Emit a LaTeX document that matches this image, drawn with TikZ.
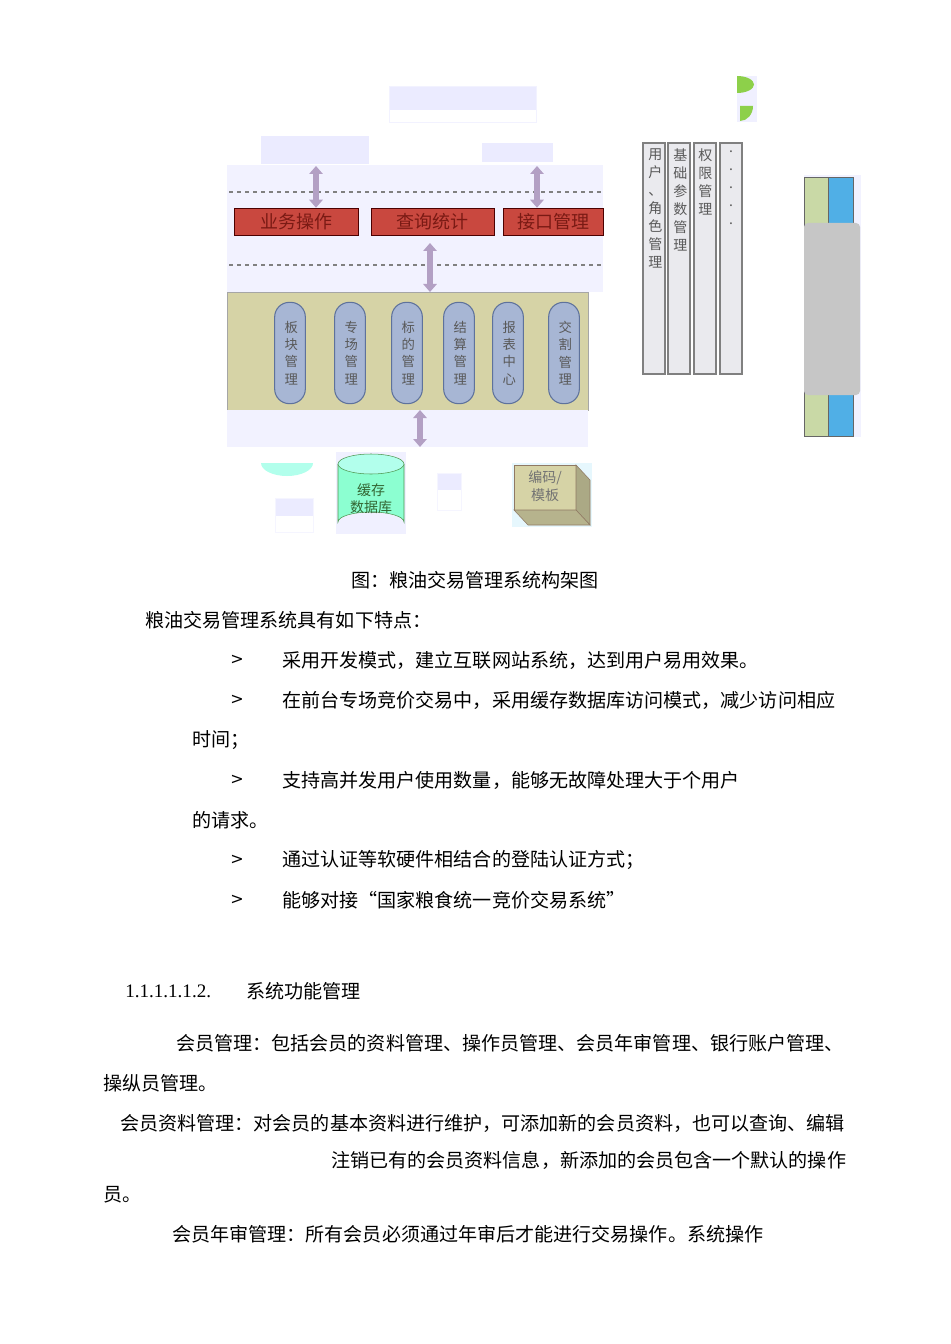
\documentclass[tikz,border=0pt]{standalone}
\usepackage{fontspec}
\setmainfont{Noto Sans CJK SC}
\newfontfamily\serifnum{Liberation Serif}
\usetikzlibrary{arrows.meta}
\definecolor{redf}{HTML}{C9483F}
\definecolor{redt}{HTML}{7A1A14}
\definecolor{tan}{HTML}{D6D3A6}
\definecolor{pillf}{HTML}{A7B6D4}
\definecolor{pilld}{HTML}{5E729C}
\definecolor{arr}{HTML}{B3A0C4}
\definecolor{leaf}{HTML}{8DD04A}
\begin{document}
\begin{tikzpicture}[x=0.75pt,y=-0.75pt,
  body/.style={anchor=west,inner sep=0,font=\fontsize{14.3}{16}\selectfont},
  dbl/.style={{Triangle[width=10pt,length=6pt]}-{Triangle[width=10pt,length=6pt]},line width=4.5pt,draw=arr},
  redbox/.style={draw=red!30!black,fill=redf,text=redt,font=\fontsize{13.5}{15}\selectfont,inner sep=0,minimum height=20.25pt},
  pill/.style={draw=pilld,fill=pillf,rounded corners=11pt,line width=0.8pt,text width=8pt,align=center,font=\fontsize{10}{13}\selectfont,text=black!65,inner sep=0,minimum width=23pt,minimum height=76pt},
  col/.style={draw=gray,fill=blue!10!gray!15!white,line width=0.8pt},
  vtxt/.style={anchor=north,align=center,font=\fontsize{10.5}{13.5}\selectfont,text=black!65,inner sep=0,text width=10pt}]
\useasboundingbox (0,0) rectangle (950,1344);
\fill[white] (0,0) rectangle (950,1344);
% top boxes
\fill[blue!8!white] (389,86) rectangle (536,110);
\draw[blue!5!white] (389,86) rectangle (536,122);
\fill[blue!8!white] (261,136) rectangle (369,164);
\fill[blue!8!white] (482,143) rectangle (553,162);
% upper band
\fill[blue!5!white] (227,165) rectangle (603,292);
\draw[dashed,gray,line width=0.9pt] (229,192) -- (603,192);
\draw[dashed,gray,line width=0.9pt] (229,265) -- (603,265);
\node[redbox,minimum width=93pt] (r1) at (296.5,221.5) {业务操作};
\node[redbox,minimum width=92pt] (r2) at (432.5,221.5) {查询统计};
\node[redbox,minimum width=75pt] (r3) at (553,221.5) {接口管理};
\coordinate (t1) at (316,166);
\coordinate (t2) at (537,166);
\draw[dbl] (t1) -- (r1.north -| t1);
\draw[dbl] (t2) -- (r3.north -| t2);
% tan band
\fill[tan] (227,292) rectangle (588,410);
\draw[gray!70] (227,292) rectangle (588,410);
\coordinate (m1) at (430,243);
\coordinate (m2) at (430,292);
\draw[dbl] (m1) -- (m2);
\foreach \x/\t/\n in {290/板\\块\\管\\理/p1,350/专\\场\\管\\理/p2,407/标\\的\\管\\理/p3,459/结\\算\\管\\理/p4,508/报\\表\\中\\心/p5,564/交\\割\\管\\理/p6}
  \node[pill] (\n) at (\x,353) {\t};
% lower band
\fill[blue!5!white] (227,410) rectangle (588,447);
\coordinate (b1) at (420,410);
\coordinate (b2) at (420,447);
\draw[dbl] (b1) -- (b2);
% bottom items
\fill[green!25!cyan!30!white] (261,463) arc[start angle=180,end angle=0,x radius=26,y radius=13] -- cycle;
\fill[blue!8!white] (275,498) rectangle (313,516);
\draw[blue!4!white] (275,498) rectangle (313,532);
\fill[blue!8!white] (437,473) rectangle (461,490);
\draw[blue!4!white] (437,473) rectangle (461,510);
% cylinder
\fill[blue!6!white] (336,452) rectangle (406,534);
\draw[green!40!black!70,fill=green!40!cyan!45!white] (338,464) -- (338,522) arc[start angle=180,end angle=360,x radius=33,y radius=10] -- (404,464);
\draw[green!40!black!70,fill=green!25!cyan!30!white] (371,464) ellipse[x radius=33,y radius=10];
\node[font=\fontsize{10.5}{13}\selectfont,text=green!25!black!80,align=center] (db) at (371,499) {缓存\\数据库};
% cube
\fill[cyan!10!white] (512,463) rectangle (592,527);
\draw[brown!50!black!70,fill=tan] (514,465) -- (576,465) -- (576,510) -- (514,510) -- cycle;
\draw[brown!50!black!70,fill=tan!80!black] (576,465) -- (590,480) -- (590,525) -- (576,510) -- cycle;
\draw[brown!50!black!70,fill=tan!85!black] (514,510) -- (576,510) -- (590,525) -- (528,525) -- cycle;
\node[font=\fontsize{10.5}{13}\selectfont,text=black!55,align=center] (cb) at (545,486) {编码/\\模板};
% columns
\foreach \x/\n in {643/c1,668/c2,694/c3,720/c4} \draw[col] (\x,143) rectangle (\x+22,374);
\node[vtxt] (v1) at (655,148) {用\\户\\、\\角\\色\\管\\理};
\node[vtxt] (v2) at (680,148) {基\\础\\参\\数\\管\\理};
\node[vtxt] (v3) at (705,148) {权\\限\\管\\理};
\node[vtxt] (v4) at (731,150) {.\\.\\.\\.\\.};
% right bar
\fill[blue!5!white] (804,175) rectangle (861,437);
\draw[gray!80!black,fill=green!30!yellow!40!gray!50!white] (804,177) rectangle (828,436);
\draw[gray!80!black,fill=cyan!80!blue!70!white] (828,177) rectangle (853,436);
\fill[gray!45,rounded corners=3pt] (804,223) rectangle (860,395);
% green pieces
\fill[blue!6!white] (737,76) rectangle (757,122);
\fill[leaf] (737,76) arc[start angle=-90,end angle=90,x radius=17,y radius=8.5] -- cycle;
\fill[leaf] (740,106) -- (753,106) arc[start angle=0,end angle=90,x radius=13,y radius=15] -- cycle;
% text
\node[body,anchor=center] (cap) at (475,580) {图：粮油交易管理系统构架图};
\node[body] (l1) at (145,620) {粮油交易管理系统具有如下特点：};
\foreach \y/\t in {660/采用开发模式，建立互联网站系统，达到用户易用效果。,700/在前台专场竞价交易中，采用缓存数据库访问模式，减少访问相应,780/支持高并发用户使用数量，能够无故障处理大于个用户,860/通过认证等软硬件相结合的登陆认证方式；,900/能够对接“国家粮食统一竞价交易系统”}{
  \node[body] at (230,\y) {\fontspec{DejaVu Sans}\large >};
  \node[body] at (282,\y) {\t};}
\node[body] (l2) at (192,740) {时间；};
\node[body] (l3) at (192,820) {的请求。};
\node[body] (h1) at (125,991) {\serifnum 1.1.1.1.1.2.};
\node[body] (h2) at (246,991) {系统功能管理};
\node[body] (p1) at (176,1043) {会员管理：包括会员的资料管理、操作员管理、会员年审管理、银行账户管理、};
\node[body] (p2) at (103,1083) {操纵员管理。};
\node[body] (p3) at (120,1123) {会员资料管理：对会员的基本资料进行维护，可添加新的会员资料，也可以查询、编辑};
\node[body] (p4) at (331,1160) {注销已有的会员资料信息，新添加的会员包含一个默认的操作};
\node[body] (p5) at (103,1195) {员。};
\node[body] (p6) at (172,1234) {会员年审管理：所有会员必须通过年审后才能进行交易操作。系统操作};
\end{tikzpicture}
\end{document}
